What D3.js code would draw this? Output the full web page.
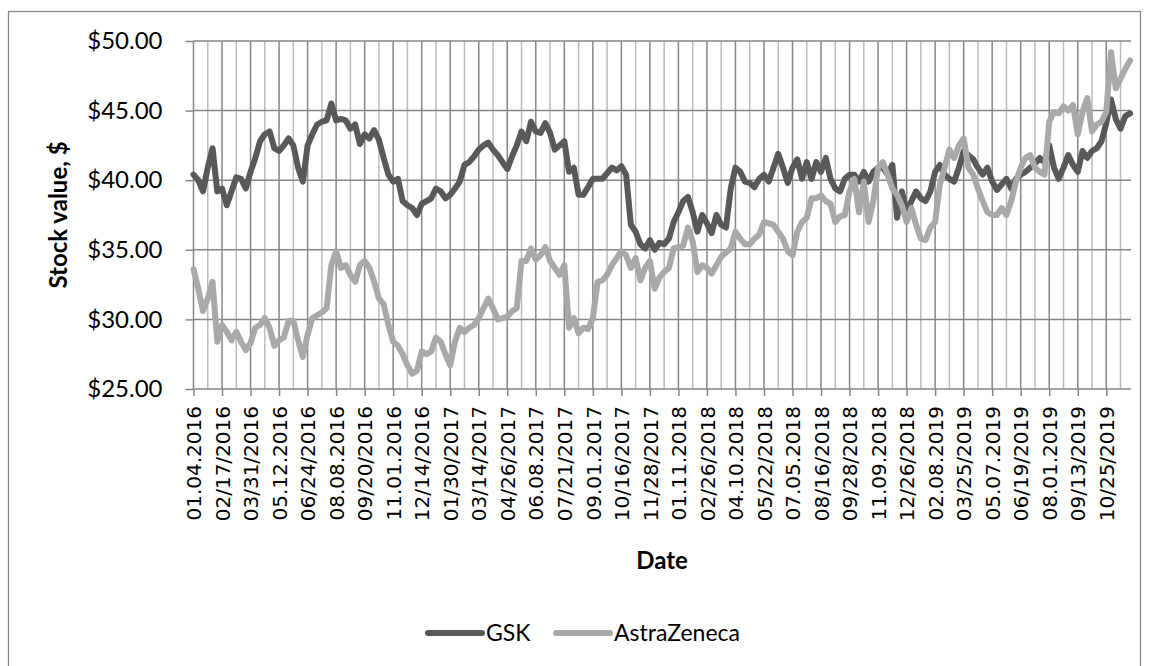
<!DOCTYPE html>
<html>
<head>
<meta charset="utf-8">
<script src="https://cdn.jsdelivr.net/npm/d3@7"></script>
<style>
  body { margin: 0; background: #fff; }
  svg { display: block; }
</style>
</head>
<body>
<svg id="chart" width="1149" height="666"></svg>
<script>
// category labels, one every 30 trading days
let tickLabels = ["01.04.2016", "02/17/2016", "03/31/2016", "05.12.2016", "06/24/2016", "08.08.2016",
                  "09/20/2016", "11.01.2016", "12/14/2016", "01/30/2017", "03/14/2017", "04/26/2017",
                  "06.08.2017", "07/21/2017", "09.01.2017", "10/16/2017", "11/28/2017", "01.11.2018",
                  "02/26/2018", "04.10.2018", "05/22/2018", "07.05.2018", "08/16/2018", "09/28/2018",
                  "11.09.2018", "12/26/2018", "02.08.2019", "03/25/2019", "05.07.2019", "06/19/2019",
                  "08.01.2019", "09/13/2019", "10/25/2019"];
let labelEvery = 30;
let lastIndex = 986;     // last trading day shown
let sampleEvery = 5;     // values below are read every 5 trading days

let yTicks = [25, 30, 35, 40, 45, 50];

let gskValues = [
  40.4, 40.0, 39.2, 40.9, 42.3, 39.2, 39.4, 38.2, 39.2, 40.2, 40.1, 39.4,
  40.6, 41.6, 42.8, 43.3, 43.5, 42.3, 42.1, 42.5, 43.0, 42.5, 40.9, 39.9,
  42.5, 43.3, 44.0, 44.2, 44.3, 45.5, 44.3, 44.4, 44.3, 43.7, 44.0, 42.6,
  43.3, 43.0, 43.6, 42.9, 41.6, 40.4, 39.9, 40.1, 38.5, 38.2, 38.0, 37.5,
  38.3, 38.5, 38.7, 39.4, 39.2, 38.7, 38.95, 39.4, 39.9, 41.1, 41.3, 41.7,
  42.2, 42.5, 42.7, 42.2, 41.8, 41.3, 40.8, 41.7, 42.5, 43.5, 42.8, 44.2,
  43.5, 43.4, 44.1, 43.4, 42.2, 42.5, 42.8, 40.6, 40.9, 38.95, 38.95, 39.5,
  40.1, 40.1, 40.1, 40.5, 40.9, 40.7, 41.0, 40.4, 36.8, 36.3, 35.4, 35.1,
  35.7, 35.0, 35.5, 35.4, 35.8, 37.0, 37.7, 38.5, 38.8, 37.7, 36.3, 37.5,
  36.9, 36.2, 37.5, 36.8, 36.6, 39.4, 40.9, 40.6, 39.9, 39.8, 39.5, 40.1,
  40.4, 39.9, 40.9, 41.9, 40.9, 39.8, 40.9, 41.5, 40.1, 41.3, 40.1, 41.3,
  40.6, 41.6, 40.1, 39.4, 39.2, 40.1, 40.4, 40.4, 39.9, 40.6, 39.9, 40.6,
  40.9, 40.9, 40.4, 41.1, 37.3, 39.2, 37.7, 38.5, 39.2, 38.7, 38.5, 39.2,
  40.6, 41.1, 40.4, 40.1, 39.9, 40.9, 42.1, 41.8, 41.5, 40.9, 40.4, 40.9,
  39.9, 39.3, 39.7, 40.1, 39.4, 40.1, 40.4, 40.6, 40.9, 41.2, 41.6, 41.3,
  42.5, 40.9, 40.1, 40.9, 41.8, 41.1, 40.6, 42.1, 41.6, 42.1, 42.3, 42.8,
  44.1, 45.8, 44.4, 43.7, 44.6, 44.8
];

let azValues = [
  33.6, 32.2, 30.6, 31.5, 32.7, 28.4, 29.6, 29.1, 28.5, 29.1, 28.4, 27.8,
  28.3, 29.4, 29.6, 30.1, 29.4, 28.1, 28.5, 28.7, 29.9, 29.9, 28.5, 27.3,
  28.9, 30.1, 30.3, 30.5, 30.8, 33.9, 34.9, 33.7, 33.9, 33.2, 32.7, 33.9,
  34.2, 33.7, 32.7, 31.5, 31.1, 29.6, 28.4, 28.1, 27.5, 26.7, 26.1, 26.3,
  27.7, 27.5, 27.7, 28.7, 28.4, 27.5, 26.7, 28.4, 29.4, 29.1, 29.4, 29.6,
  30.1, 30.8, 31.5, 30.8, 30.0, 30.1, 30.2, 30.6, 30.8, 34.2, 34.2, 35.1,
  34.3, 34.6, 35.2, 34.2, 33.7, 33.2, 33.9, 29.4, 30.1, 29.0, 29.4, 29.3,
  30.1, 32.7, 32.8, 33.2, 33.9, 34.4, 34.9, 34.6, 33.7, 34.4, 32.8, 33.7,
  34.2, 32.2, 33.0, 33.4, 33.7, 35.1, 35.2, 35.3, 36.6, 35.6, 33.4, 33.9,
  33.7, 33.3, 33.9, 34.5, 34.8, 35.1, 36.3, 35.8, 35.4, 35.4, 35.8, 36.1,
  37.0, 36.9, 36.8, 36.3, 35.8, 34.9, 34.6, 36.3, 37.0, 37.3, 38.7, 38.7,
  38.9, 38.5, 38.3, 37.0, 37.4, 37.5, 39.2, 40.1, 37.7, 39.9, 37.0, 38.5,
  40.9, 41.3, 40.4, 39.4, 38.95, 38.2, 37.0, 38.0, 36.8, 35.8, 35.7, 36.6,
  37.0, 39.7, 40.9, 42.2, 41.6, 42.5, 43.0, 40.9, 40.4, 39.4, 38.5, 37.7,
  37.5, 37.5, 38.0, 37.5, 38.5, 39.9, 40.9, 41.6, 41.8, 40.9, 40.6, 40.4,
  44.2, 44.9, 44.8, 45.3, 45.0, 45.4, 43.3, 44.9, 45.9, 43.5, 44.0, 44.2,
  44.9, 49.2, 46.6, 47.3, 48.0, 48.6
];

let seriesNames = ["GSK", "AstraZeneca"];

var svg = d3.select("#chart");

// outer chart frame
svg.append("rect")
    .attr("x", 8.5).attr("y", 11.5)
    .attr("width", 1132).attr("height", 700)
    .attr("fill", "none")
    .attr("stroke", "#898989")
    .attr("stroke-width", 1.3);

var x = d3.scaleLinear().domain([0, lastIndex]).range([193.5, 1131]);
var y = d3.scaleLinear().domain([25, 50]).range([389, 41]);

// vertical gridlines: light halfway lines, darker at each label
var grid = svg.append("g");
var halfSteps = d3.range(labelEvery / 2, lastIndex, labelEvery);
grid.selectAll("line.minor")
    .data(halfSteps)
    .enter().append("line")
    .attr("class", "minor")
    .attr("x1", d => x(d)).attr("x2", d => x(d))
    .attr("y1", y(50)).attr("y2", y(25))
    .attr("stroke", "#bcbcbc")
    .attr("stroke-width", 1.5);

var majorSteps = d3.range(0, lastIndex, labelEvery);
grid.selectAll("line.major")
    .data(majorSteps)
    .enter().append("line")
    .attr("class", "major")
    .attr("x1", d => x(d)).attr("x2", d => x(d))
    .attr("y1", y(50)).attr("y2", y(25))
    .attr("stroke", "#868686")
    .attr("stroke-width", 1.5);

grid.selectAll("line.h")
    .data(yTicks)
    .enter().append("line")
    .attr("class", "h")
    .attr("x1", x(0)).attr("x2", x(lastIndex))
    .attr("y1", d => y(d)).attr("y2", d => y(d))
    .attr("stroke", "#868686")
    .attr("stroke-width", 1.5);

// y axis
var yAxis = svg.append("g")
    .attr("transform", "translate(" + x(0) + ",0)")
    .call(d3.axisLeft(y).tickValues(yTicks).tickFormat(d3.format("$.2f"))
          .tickSize(8).tickSizeOuter(0).tickPadding(23));
yAxis.select(".domain").remove();
yAxis.selectAll("line").attr("stroke", "#868686").attr("stroke-width", 1.5);
yAxis.selectAll("text")
    .attr("font-family", "Lato, 'Open Sans', sans-serif")
    .attr("font-size", 24)
    .attr("fill", "#000");

// x axis
var xAxis = svg.append("g")
    .attr("transform", "translate(0," + y(25) + ")")
    .call(d3.axisBottom(x).tickValues(majorSteps)
          .tickFormat((d, i) => tickLabels[i])
          .tickSize(7).tickSizeOuter(0));
xAxis.select(".domain").remove();
xAxis.selectAll("line").attr("stroke", "#868686").attr("stroke-width", 1.5);
xAxis.selectAll("text")
    .attr("transform", "rotate(-90)")
    .attr("x", -17).attr("y", 0).attr("dy", "0.36em")
    .attr("text-anchor", "end")
    .attr("font-family", "'DejaVu Sans', sans-serif")
    .attr("font-size", 20)
    .attr("fill", "#000");

// series
var line = d3.line()
    .x((d, i) => x(i * sampleEvery))
    .y(d => y(d));

svg.append("path")
    .datum(gskValues)
    .attr("d", line)
    .attr("fill", "none")
    .attr("stroke", "#595959")
    .attr("stroke-width", 6)
    .attr("stroke-linejoin", "round")
    .attr("stroke-linecap", "round");

svg.append("path")
    .datum(azValues)
    .attr("d", line)
    .attr("fill", "none")
    .attr("stroke", "#a9a9a9")
    .attr("stroke-width", 6)
    .attr("stroke-linejoin", "round")
    .attr("stroke-linecap", "round");

// axis titles
svg.append("text")
    .attr("transform", "translate(67,215) rotate(-90)")
    .attr("text-anchor", "middle")
    .attr("font-family", "Lato, 'Open Sans', sans-serif")
    .attr("font-weight", "bold")
    .attr("font-size", 24)
    .text("Stock value, $");

svg.append("text")
    .attr("x", 662).attr("y", 569)
    .attr("text-anchor", "middle")
    .attr("font-family", "Lato, 'Open Sans', sans-serif")
    .attr("font-weight", "bold")
    .attr("font-size", 24)
    .text("Date");

// legend
var legendX = [428, 556];
var legendColors = ["#595959", "#a9a9a9"];
var legend = svg.append("g");
seriesNames.forEach(function(name, i){
    legend.append("line")
        .attr("x1", legendX[i]).attr("x2", legendX[i] + 54)
        .attr("y1", 633).attr("y2", 633)
        .attr("stroke", legendColors[i])
        .attr("stroke-width", 6)
        .attr("stroke-linecap", "round");
    legend.append("text")
        .attr("x", legendX[i] + 58).attr("y", 641)
        .attr("font-family", "Lato, 'Open Sans', sans-serif")
        .attr("font-size", 23)
        .text(name);
});
</script>
</body>
</html>
